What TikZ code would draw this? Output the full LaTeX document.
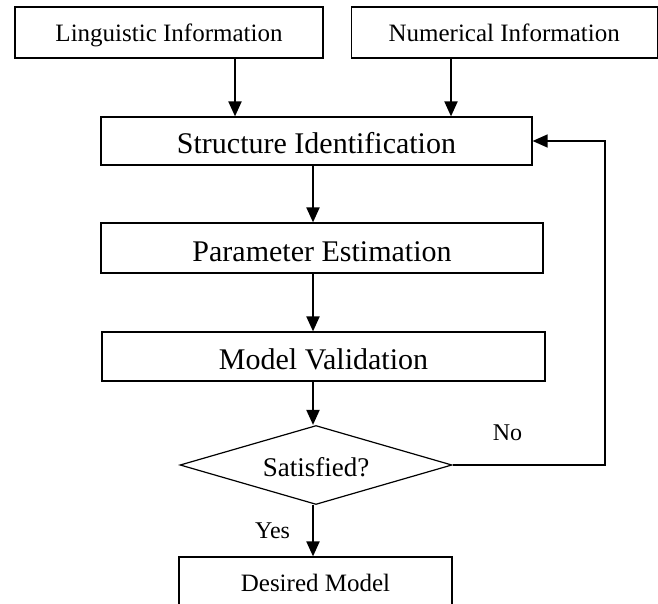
\documentclass[tikz,border=0pt]{standalone}
\usepackage{fontspec}
\setmainfont{Liberation Serif}
\usetikzlibrary{positioning,shapes.geometric,arrows.meta}
\tikzset{info node/.style={draw, line width=1.2pt, minimum height=51pt, inner sep=0pt, text height=18.5pt, text depth=0pt, font=\fontsize{25}{30}\selectfont},
  step node/.style={draw, line width=1.2pt, minimum height=49pt, inner sep=0pt, text height=26pt, text depth=0pt, font=\fontsize{30}{36}\selectfont},
  decision node/.style={diamond, aspect=3.44, draw, line width=1.2pt, minimum width=272pt, minimum height=79pt, inner sep=0pt, text height=22pt, text depth=0pt, font=\fontsize{27}{32}\selectfont},
  edge label/.style={inner sep=0pt, font=\fontsize{24}{29}\selectfont},
  flow arrow/.style={line width=2pt, -{Triangle[length=15pt,width=13pt]}},
  loop arrow/.style={line width=1.3pt, -{Triangle[length=15pt,width=13pt]}},}

\begin{document}
\begin{tikzpicture}[x=1pt,y=-1pt]
    \useasboundingbox (0,0) rectangle (658,604);
    \clip (0,0) rectangle (658,604);

    \node[info node, minimum width=308pt] (ling) at (169,32.5) {Linguistic Information};
    \node[info node, minimum width=306pt] (num) [right = 27pt of ling] {Numerical Information};
    \node[step node, minimum width=431pt, minimum height=48pt] (struct) at (316.5,141) {Structure Identification};
    \node[step node, minimum width=442pt, minimum height=50pt] (param) at (322,248) {Parameter Estimation};
    \node[step node, minimum width=443pt] (valid) at (323.5,356.5) {Model Validation};
    \node[decision node] (check) at (316,465) {Satisfied?};
    \node[info node, minimum width=273pt, minimum height=50pt] (model) at (315.5,582) {Desired Model};

    \coordinate (lx) at (235,0);
    \coordinate (nx) at (451,0);
    \coordinate (sx) at (313,0);
    \coordinate (fx) at (605,0);

    \draw[flow arrow] (ling.south -| lx) -- (struct.north -| lx);
    \draw[flow arrow] (num.south -| nx) -- (struct.north -| nx);
    \draw[flow arrow] (struct.south -| sx) -- (param.north -| sx);
    \draw[flow arrow] (param.south -| sx) -- (valid.north -| sx);
    \draw[flow arrow] (valid.south -| sx) -- (check.north -| sx);
    \draw[flow arrow] (check.south -| sx) -- node[edge label, left=22pt] {Yes} (model.north -| sx);
    \draw[loop arrow] (check.east) -| node[edge label, pos=0.18, above=24pt] {No} (fx |- struct.east) -- (struct.east);
  \end{tikzpicture}
\end{document}
